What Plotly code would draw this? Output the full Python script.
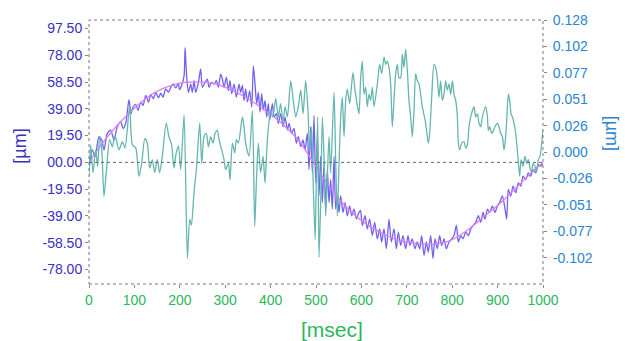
import plotly.graph_objects as go

# ---- data ----
teal_ms = [0, 3.7, 8.8, 14.7, 19, 23.5, 28, 33, 38, 45.5, 51.4, 57.3, 66, 73.4, 79.3, 89.6, 95.5, 103, 110, 116,
           123, 128.5, 133.6, 139.5, 144.6, 150.5, 155.6, 161.5, 170, 176, 182, 187, 192, 197, 202, 209.4, 216.7,
           221.8, 225.5, 231.4, 236.5, 243.8, 248.3, 253.4, 258.5, 263, 268, 273.2, 277.6, 282.8, 286.4, 292.3,
           297.4, 301, 307, 310.6, 315.8, 321, 324.6, 329, 337.8, 341.5, 345, 352.5, 359.8, 365, 368.6, 373, 378,
           383.3, 387.7, 392.9, 400.2, 405.3, 411.2, 417, 422, 427.4, 431.8, 437, 444.3, 450, 455.3, 461.1, 466.3,
           471.4, 477.3, 482.4, 486, 489.8, 493.4, 498, 500.8, 503.7, 506.6, 510.3, 514, 517.6, 521.3, 525, 528.7,
           532.3, 539.7, 543.3, 547, 550.7, 554.4, 558, 561.7, 565.4, 569, 574.2, 578.6, 581.5, 586, 591, 594.7,
           598.4, 602, 605.8, 609.4, 613, 616.8, 620.4, 624, 627.8, 635.1, 640.2, 644.7, 649.8, 653.5, 657.1, 660.8,
           664.5, 668.1, 671.8, 675.5, 679.2, 682.8, 686.5, 690.2, 693.8, 697.5, 701.2, 704.8, 708.5, 712.2, 715.9,
           719.5, 723.2, 726.9, 730.5, 734.2, 741.5, 747.4, 750.3, 754.8, 759.9, 763.6, 767.2, 770.9, 774.6, 778.2,
           781.9, 785.6, 789.2, 793, 796.7, 800.4, 804, 807.7, 811.4, 813.6, 816.5, 821, 826, 829.7, 833.4, 837,
           840.8, 844.4, 848, 851.8, 855.4, 859, 862.8, 866.4, 873.8, 877.5, 879.7, 882.6, 887, 890, 894.3, 899.5,
           903.1, 906.8, 910.5, 914.1, 916.4, 919.3, 923.7, 926.6, 929.6, 932.5, 936.2, 939.8, 943.5, 948.6, 951.6,
           956, 960.4, 964, 967.7, 970.7, 975, 978, 982.4, 985.3, 989.8, 993.4, 995.6, 998.6, 1000]
teal_um = [-0.0235, 0.0069, -0.020, 0.002, -0.014, 0.015, 0.002, -0.043, -0.020, 0.012, 0.005, 0.016, 0.002, 0.010,
           0.004, 0.045, 0.007, 0.004, -0.0235, -0.011, 0.013, 0.0085, -0.0155, -0.0075, -0.020, -0.0075, -0.020,
           -0.004, 0.028, 0.015, 0.007, -0.0155, -0.001, 0.006, -0.017, 0.036, -0.103, -0.065, -0.071, -0.039,
           -0.017, 0.028, -0.011, 0.015, 0.018, 0.005, 0.015, 0.0085, 0.018, 0.021, 0.012, 0.002, -0.0075, -0.017,
           -0.011, -0.027, 0.0085, -0.001, 0.012, 0.0085, 0.034, 0.024, 0.0085, -0.004, 0.040, -0.072, -0.030,
           0.0085, -0.020, -0.004, -0.030, 0.012, 0.040, 0.034, 0.052, 0.034, 0.047, 0.028, 0.044, 0.034, 0.069,
           0.050, 0.034, 0.044, 0.060, 0.037, 0.069, 0.040, 0.002, 0.024, -0.0235, -0.085, -0.0235, 0.034, -0.102,
           -0.049, 0.034, -0.004, -0.062, -0.0235, 0.015, -0.020, 0.058, -0.0075, -0.062, -0.011, 0.034, 0.053,
           0.015, 0.050, 0.061, 0.047, 0.066, 0.077, 0.060, 0.045, 0.037, 0.072, 0.088, 0.056, 0.063, 0.044, 0.056,
           0.050, 0.063, 0.044, 0.066, 0.085, 0.076, 0.092, 0.085, 0.088, 0.082, 0.066, 0.0245, 0.050, 0.076,
           0.085, 0.072, 0.072, 0.095, 0.082, 0.0997, 0.079, 0.050, 0.034, 0.015, 0.040, 0.076, 0.069, 0.066,
           0.056, 0.044, 0.028, 0.0085, 0.018, 0.053, 0.085, 0.082, 0.072, 0.053, 0.069, 0.050, 0.056, 0.069,
           0.060, 0.066, 0.056, 0.069, 0.056, 0.050, 0.034, 0.0085, 0.002, 0.0085, 0.010, 0.0037, 0.007, 0.0245,
           0.034, 0.040, 0.044, 0.034, 0.037, 0.028, 0.0245, 0.034, 0.044, 0.034, 0.021, 0.0245, 0.018, 0.020,
           0.0245, 0.028, 0.0245, 0.018, 0.015, 0.002, 0.0085, 0.0245, 0.056, 0.050, 0.037, 0.034, 0.028, 0.018,
           0.002, -0.0235, -0.0075, -0.014, -0.0043, -0.011, -0.0075, -0.014, -0.020, -0.011, -0.014, -0.020,
           -0.0075, -0.0043, 0.002, 0.015, 0.021]

purple_ms = [0, 7.4, 13.3, 22, 28, 33, 40.4, 47.8, 55, 62.4, 69.8, 75, 80.8, 88.1, 92.5, 97, 103, 108, 114, 119,
             125, 131, 136, 142, 147, 153, 158, 163, 169, 175, 180, 185, 191, 197, 199, 204, 209.4, 211.6, 215, 219,
             224, 227.7, 231.4, 235, 241, 246, 249.7, 255.6, 260.7, 264.4, 270, 275.4, 280.5, 285, 290, 293.8,
             297.4, 302.6, 307, 310.6, 314.3, 319.5, 324.6, 330.5, 334, 337.8, 341.5, 345, 349, 354, 358.4, 362,
             365.7, 369.4, 373, 376.7, 380.4, 384, 387.7, 391.4, 395, 398, 404, 407.5, 412.7, 417, 422.2, 427.4,
             431.8, 437, 440.6, 446.5, 451.6, 456.7, 461, 466.3, 471.4, 476, 481, 484.6, 488.3, 492, 495.6, 499.3,
             503, 506.6, 510.3, 514, 517.7, 521.3, 525, 528.7, 532.3, 536, 539.7, 543.3, 547, 550.7, 554.4, 559.5,
             564, 569, 574, 578.6, 583.7, 589, 594, 598, 602, 608, 613, 618.2, 624, 629.3, 635, 640.2, 644.7, 649.8,
             655, 660.8, 666, 671.8, 677, 681.4, 686.5, 691.6, 697.5, 702.6, 707, 712, 718, 723, 728.3, 732.7, 738,
             743, 747.4, 752.6, 757.7, 762, 767.2, 772.4, 776.8, 782, 787, 793, 799, 804, 809.2, 813.6, 818.7,
             823.9, 829.7, 835.6, 840.8, 846, 851.8, 857.6, 862.8, 868, 872.3, 877.5, 882.6, 888.5, 894.3, 899.5,
             904.6, 910.5, 916.4, 920, 923.7, 928.8, 934, 939.8, 945.7, 951, 956, 961.9, 967.7, 972.9, 978, 983.9,
             989.8, 995, 1000]
purple_um = [-5.3, 9.1, 4.3, 18.7, 16.3, 9.1, 21.1, 23.5, 16.3, 25.9, 29.5, 24.7, 28.3, 45.6, 35.5, 40.3, 42.2, 37.9,
             43.9, 41.5, 48.7, 43.9, 49.4, 46.3, 51.1, 47, 50.4, 47.5, 53.5, 51, 54.7, 57.1, 54.2, 57.6, 53, 56, 63,
             83.5, 63, 51, 57, 51, 59.5, 51, 58.3, 68, 54.7, 58.3, 60.7, 54.7, 58.3, 57, 59.5, 54.7, 64.3, 60.7, 54.7,
             62, 52.3, 59.5, 50, 57, 47.5, 57, 51, 56, 45, 53.5, 44, 52.3, 40.3, 70.3, 57, 42.7, 51, 36.7, 50, 38, 45,
             33, 42.7, 30.7, 42.7, 33, 35.5, 28.3, 35.5, 26, 33, 23.5, 28.3, 21.1, 24.7, 13.9, 18.7, 11.5, 16.3, 9.1,
             21.1, -5.3, 26, -7.7, 34, -14.9, 18.7, -24.5, 4.3, -29.3, -0.5, -34, -5.3, -29.3, -12.5, -34, 4.3, -34,
             -24.5, -36.5, -24.5, -36.5, -29.3, -38.9, -31.7, -38.9, -34, -41.3, -37, -35, -46, -38.9, -48.5, -41.3,
             -53.3, -43.7, -55.7, -48.5, -58, -48.5, -62.9, -41.3, -58, -48.5, -62.9, -50.9, -60.5, -53.3, -62.9,
             -53.3, -60.5, -55.7, -62.9, -58, -62.9, -53.3, -67.7, -58, -65.3, -53.3, -70, -55.7, -62.9, -53.3,
             -60.5, -55.7, -62.9, -58, -55.7, -53.3, -46, -58, -53.3, -55.7, -50.9, -53.3, -48.5, -46, -43.7, -38.9,
             -43.7, -36.5, -41.3, -34, -36.5, -31.7, -36.5, -31.7, -29.3, -24.5, -34, -41.3, -19.7, -24.5, -17.3,
             -22.1, -14.9, -17.3, -10.1, -12.5, -7.7, -10.1, -5.3, -7.7, -1.7, -2.9, -0.5]

smooth_ms = [0, 29, 66, 103, 140, 190, 220, 250, 280, 308, 338, 367, 395, 426, 464, 493, 537, 574, 611, 648, 684,
             720, 758, 795, 831, 868, 905, 941, 978, 1000]
smooth_um = [0, 13.9, 28.3, 40.3, 50, 57, 58.5, 58.5, 57, 53.5, 48.7, 42.7, 36, 28, 15, 0.5, -21, -35, -45, -52, -57,
             -59, -59.5, -57, -50, -40, -30, -18.5, -6.5, 0]

left_ticks = [-78, -58.5, -39, -19.5, 0, 19.5, 39, 58.5, 78, 97.5]
left_labels = ["-78.00", "-58.50", "-39.00", "-19.50", "00.00", "19.50", "39.00", "58.50", "78.00", "97.50"]
right_ticks = [-0.1024, -0.0768, -0.0512, -0.0256, 0, 0.0256, 0.0512, 0.0768, 0.1024, 0.128]
right_labels = ["-0.102", "-0.077", "-0.051", "-0.026", "0.000", "0.026", "0.051", "0.077", "0.102", "0.128"]
x_ticks = [0, 100, 200, 300, 400, 500, 600, 700, 800, 900, 1000]

LEFT_C = "#3b30c4"
RIGHT_C = "#2a86cf"
X_C = "#2bb75a"

fig = go.Figure()
fig.add_trace(go.Scatter(x=purple_ms, y=purple_um, mode="lines", yaxis="y",
                         line=dict(color="#7062f2", width=1.3, shape="spline", smoothing=0.7)))
fig.add_trace(go.Scatter(x=smooth_ms, y=smooth_um, mode="lines", yaxis="y",
                         line=dict(color="#e27cf2", width=1.3, shape="spline")))
fig.add_trace(go.Scatter(x=teal_ms, y=teal_um, mode="lines", yaxis="y2",
                         line=dict(color="#66b6b0", width=1.3, shape="spline", smoothing=0.7)))

tickfont = dict(family="Arial", size=14)
fig.update_layout(
    width=625, height=341,
    margin=dict(l=89, r=82, t=17, b=57),
    paper_bgcolor="white", plot_bgcolor="white",
    showlegend=False,
    xaxis=dict(range=[0, 1000], tickvals=x_ticks, ticks="outside", ticklen=3, tickcolor="#888",
               showgrid=False, zeroline=False, tickfont=dict(tickfont, color=X_C), showline=False),
    yaxis=dict(range=[-88.6, 103.7], tickvals=left_ticks, ticktext=left_labels, ticks="outside",
               ticklen=3, tickcolor="#888", showgrid=False, zeroline=False,
               tickfont=dict(tickfont, color=LEFT_C)),
    yaxis2=dict(range=[-0.128, 0.128], tickvals=right_ticks, ticktext=right_labels, overlaying="y",
                side="right", ticks="outside", ticklen=3, tickcolor="#888", showgrid=False,
                zeroline=False, tickfont=dict(tickfont, color=RIGHT_C), ticklabelstandoff=3),
    shapes=[
        dict(type="rect", xref="paper", yref="paper", x0=0, x1=1, y0=0, y1=1,
             line=dict(color="#777", width=1, dash="dot")),
        dict(type="line", xref="paper", yref="y", x0=0, x1=1, y0=0, y1=0,
             line=dict(color="#666", width=1, dash="dot")),
    ],
    annotations=[
        dict(text="[µm]", xref="paper", yref="paper", x=-0.152, y=0.524, textangle=-90,
             xanchor="center", yanchor="middle",
             showarrow=False, font=dict(family="Arial", size=18, color=LEFT_C)),
        dict(text="[µm]", xref="paper", yref="paper", x=1.152, y=0.573, textangle=90,
             xanchor="center", yanchor="middle",
             showarrow=False, font=dict(family="Arial", size=18, color=RIGHT_C)),
        dict(text="[msec]", xref="paper", yref="paper", x=0.535, y=-0.172, yanchor="middle",
             xanchor="center",
             showarrow=False, font=dict(family="Arial", size=21, color=X_C)),
    ],
)

fig.write_html("out.html")
